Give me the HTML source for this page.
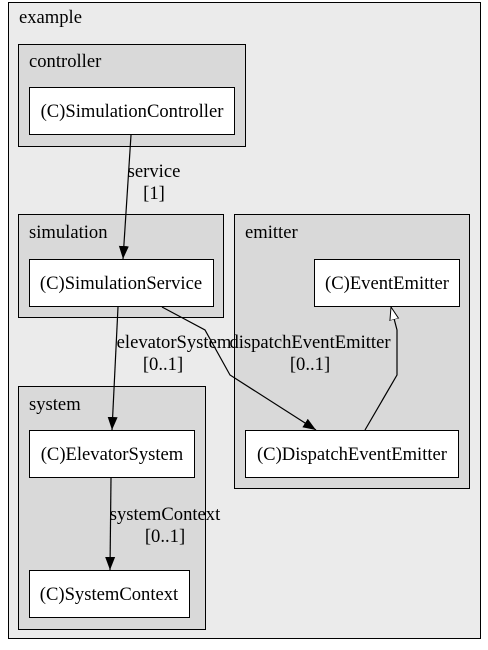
<!DOCTYPE html>
<html><head><meta charset="utf-8"><style>body{margin:0;background:#fff}svg{display:block}text{font-family:"Liberation Serif",serif;font-size:18.6px;fill:#000}</style></head><body>
<svg width="488" height="650" viewBox="0 0 488 650" xmlns="http://www.w3.org/2000/svg">
<defs>
<marker id="a" markerWidth="14" markerHeight="12" refX="13" refY="6" orient="auto" markerUnits="userSpaceOnUse"><path d="M0,1 L13,6 L0,11 z" fill="#000"/></marker>
<marker id="h" markerWidth="14" markerHeight="12" refX="13" refY="6" orient="auto" markerUnits="userSpaceOnUse"><path d="M0,1.5 L13,6 L0,10.5 z" fill="#fff" stroke="#000"/></marker>
</defs>
<rect x="8.5" y="2.5" width="472" height="636" fill="#ebebeb" stroke="#000"/>
<text x="19" y="23">example</text>
<rect x="18.5" y="44.5" width="227" height="102" fill="#d9d9d9" stroke="#000"/>
<text x="29" y="67">controller</text>
<rect x="29.5" y="87.5" width="205" height="47" fill="#fff" stroke="#000"/>
<text x="132" y="117" text-anchor="middle">(C)SimulationController</text>
<rect x="18.5" y="214.5" width="205" height="103" fill="#d9d9d9" stroke="#000"/>
<text x="29" y="238">simulation</text>
<rect x="29.5" y="259.5" width="184" height="47" fill="#fff" stroke="#000"/>
<text x="121" y="289" text-anchor="middle">(C)SimulationService</text>
<rect x="234.5" y="214.5" width="235" height="274" fill="#d9d9d9" stroke="#000"/>
<text x="245" y="238">emitter</text>
<rect x="314.5" y="259.5" width="145" height="47" fill="#fff" stroke="#000"/>
<text x="387" y="289" text-anchor="middle">(C)EventEmitter</text>
<rect x="245.5" y="430.5" width="213" height="47" fill="#fff" stroke="#000"/>
<text x="352" y="460" text-anchor="middle">(C)DispatchEventEmitter</text>
<rect x="18.5" y="386.5" width="187" height="243" fill="#d9d9d9" stroke="#000"/>
<text x="29" y="410">system</text>
<rect x="29.5" y="570.5" width="160" height="47" fill="#fff" stroke="#000"/>
<rect x="29.5" y="430.5" width="165" height="47" fill="#fff" stroke="#000"/>
<text x="112" y="460" text-anchor="middle">(C)ElevatorSystem</text>
<text x="109" y="600" text-anchor="middle">(C)SystemContext</text>
<g fill="none" stroke="#000" stroke-width="1.2">
<path d="M131,135 L123,259" marker-end="url(#a)"/>
<path d="M118,307 L112,430" marker-end="url(#a)"/>
<path d="M162,307 L205,330 L230,375 L316,430" marker-end="url(#a)"/>
<path d="M111,478 L110,570" marker-end="url(#a)"/>
<path d="M365,430 L397,375 L397,330 L391,307" marker-end="url(#h)"/>
</g>
<text x="154" y="177" text-anchor="middle">service</text>
<text x="154" y="199" text-anchor="middle">[1]</text>
<text x="174" y="348" text-anchor="middle">elevatorSystem</text>
<text x="163" y="370" text-anchor="middle">[0..1]</text>
<text x="310" y="348" text-anchor="middle">dispatchEventEmitter</text>
<text x="310" y="370" text-anchor="middle">[0..1]</text>
<text x="165" y="520" text-anchor="middle">systemContext</text>
<text x="165" y="542" text-anchor="middle">[0..1]</text>
</svg>
</body></html>
